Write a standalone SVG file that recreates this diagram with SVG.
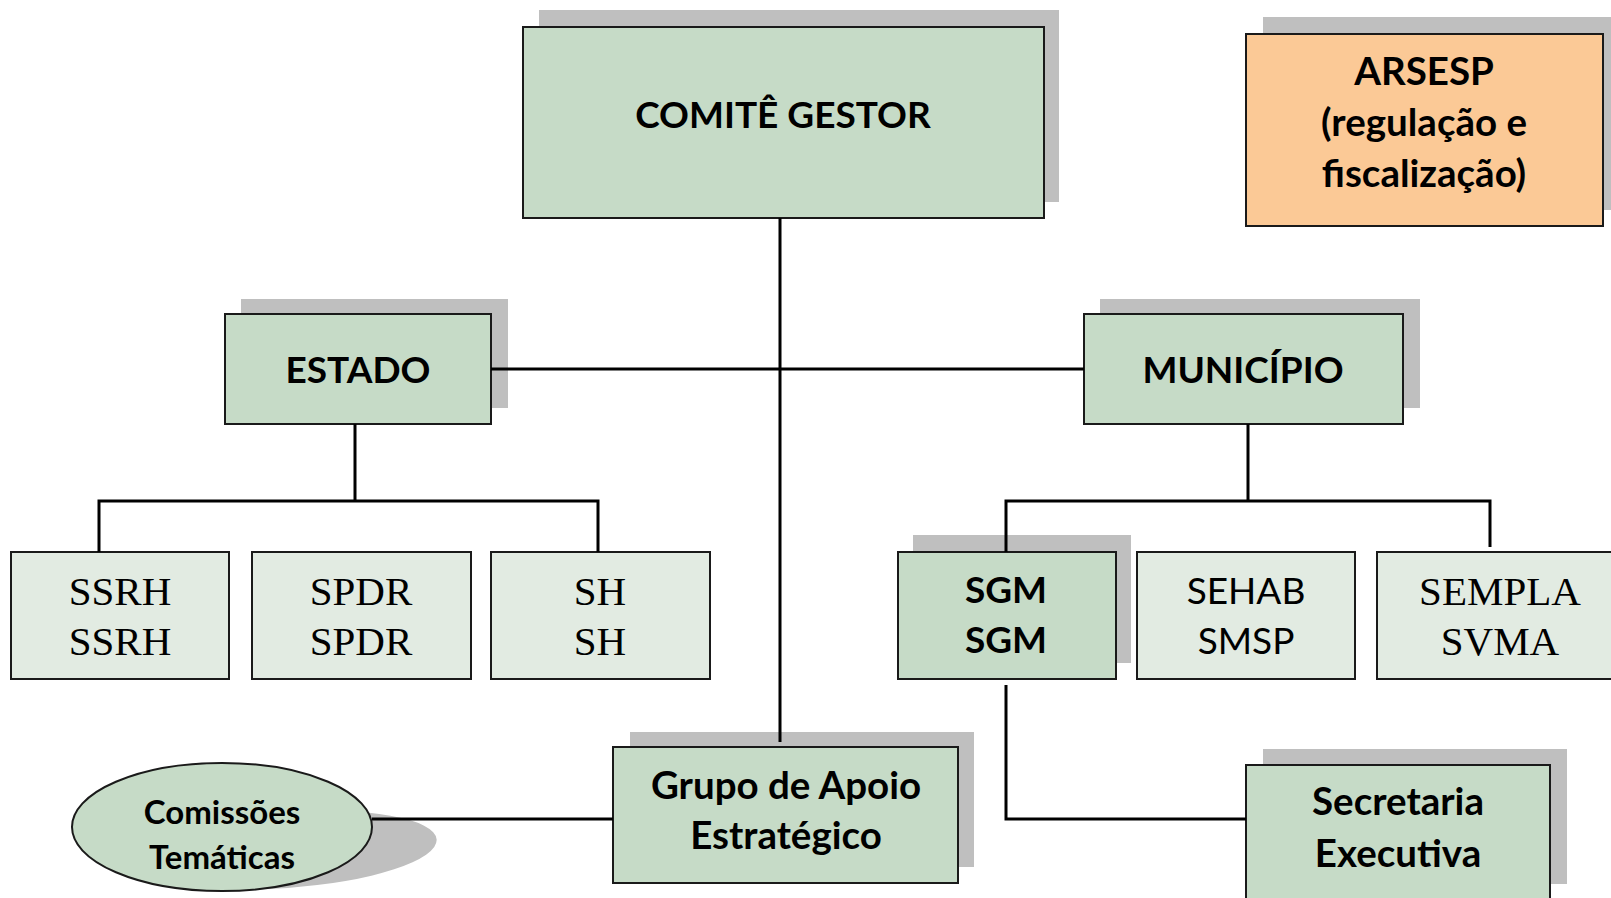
<svg xmlns="http://www.w3.org/2000/svg" width="1611" height="898" viewBox="0 0 1611 898">
<style>
.sh{fill:#bfbfbf}
.bx{fill:#c6dbc7;stroke:#1a1a1a;stroke-width:2}
.lt{fill:#e2ebe2;stroke:#1a1a1a;stroke-width:2}
.or{fill:#fbc996;stroke:#1a1a1a;stroke-width:2}
.b{font-family:Lato,"Liberation Sans",sans-serif;font-weight:bold;fill:#000;text-anchor:middle}
.s{font-family:"Liberation Serif",serif;fill:#000;text-anchor:middle;font-size:41px}
.r{font-family:Lato,"Liberation Sans",sans-serif;fill:#000;text-anchor:middle;font-size:37px}
.c{fill:none;stroke:#000;stroke-width:3}
</style>
<rect width="1611" height="898" fill="#fff"/>
<g id="comite">
<rect class="sh" x="539" y="10" width="520" height="192"/>
<rect class="bx" x="523" y="27" width="521" height="191"/>
<text class="b" x="783" y="128" font-size="37">COMITÊ GESTOR</text>
</g>
<g id="arsesp">
<rect class="sh" x="1263" y="17" width="348" height="193"/>
<rect class="or" x="1246" y="34" width="357" height="192"/>
<text class="b" x="1424" y="85" font-size="38.5">ARSESP</text>
<text class="b" x="1424" y="136" font-size="38.5">(regulação e</text>
<text class="b" x="1424" y="187" font-size="38.5">fiscalização)</text>
</g>
<g id="estado">
<rect class="sh" x="241" y="299" width="267" height="109"/>
<rect class="bx" x="225" y="314" width="266" height="110"/>
<text class="b" x="358" y="383" font-size="37">ESTADO</text>
</g>
<g id="municipio">
<rect class="sh" x="1100" y="299" width="320" height="109"/>
<rect class="bx" x="1084" y="314" width="319" height="110"/>
<text class="b" x="1243" y="383" font-size="37">MUNICÍPIO</text>
</g>
<g id="ssrh">
<rect class="lt" x="11" y="552" width="218" height="127"/>
<text class="s" x="120" y="605">SSRH</text>
<text class="s" x="120" y="655">SSRH</text>
</g>
<g id="spdr">
<rect class="lt" x="252" y="552" width="219" height="127"/>
<text class="s" x="361" y="605">SPDR</text>
<text class="s" x="361" y="655">SPDR</text>
</g>
<g id="sh">
<rect class="lt" x="491" y="552" width="219" height="127"/>
<text class="s" x="600" y="605">SH</text>
<text class="s" x="600" y="655">SH</text>
</g>
<g id="sgm">
<rect class="sh" x="913" y="535" width="218" height="128"/>
<rect class="bx" x="898" y="552" width="218" height="127"/>
<text class="b" x="1006" y="603" font-size="37">SGM</text>
<text class="b" x="1006" y="653" font-size="37">SGM</text>
</g>
<g id="sehab">
<rect class="lt" x="1137" y="552" width="218" height="127"/>
<text class="r" x="1246" y="604">SEHAB</text>
<text class="r" x="1246" y="654">SMSP</text>
</g>
<g id="sempla">
<rect class="lt" x="1377" y="552" width="240" height="127"/>
<text class="s" x="1500" y="605">SEMPLA</text>
<text class="s" x="1500" y="655">SVMA</text>
</g>
<g id="grupo">
<rect class="sh" x="630" y="732" width="344" height="135"/>
<rect class="bx" x="613" y="747" width="345" height="136"/>
<text class="b" x="786" y="799" font-size="38.5">Grupo de Apoio</text>
<text class="b" x="786" y="849" font-size="38.5">Estratégico</text>
</g>
<g id="secretaria">
<rect class="sh" x="1263" y="749" width="304" height="135"/>
<rect class="bx" x="1246" y="765" width="304" height="140"/>
<text class="b" x="1398" y="815" font-size="38.5">Secretaria</text>
<text class="b" x="1398" y="867" font-size="38.5">Executiva</text>
</g>
<g id="comissoes">
<ellipse class="sh" cx="285" cy="850" rx="152" ry="38" transform="rotate(-4 285 850)"/>
<ellipse class="bx" cx="222" cy="827" rx="150" ry="64"/>
<text class="b" x="222" y="824" font-size="33">Comissões</text>
<text class="b" x="222" y="869" font-size="33">Temáticas</text>
</g>
<g id="connectors">
<path class="c" d="M780 218V742"/>
<path class="c" d="M491 369H1084"/>
<path class="c" d="M355 424V501M99 552V501H598V552"/>
<path class="c" d="M1248 424V501M1006 552V501H1490V547"/>
<path class="c" d="M1006 685V819H1246"/>
<path class="c" d="M372 819H613"/>
</g>
</svg>
